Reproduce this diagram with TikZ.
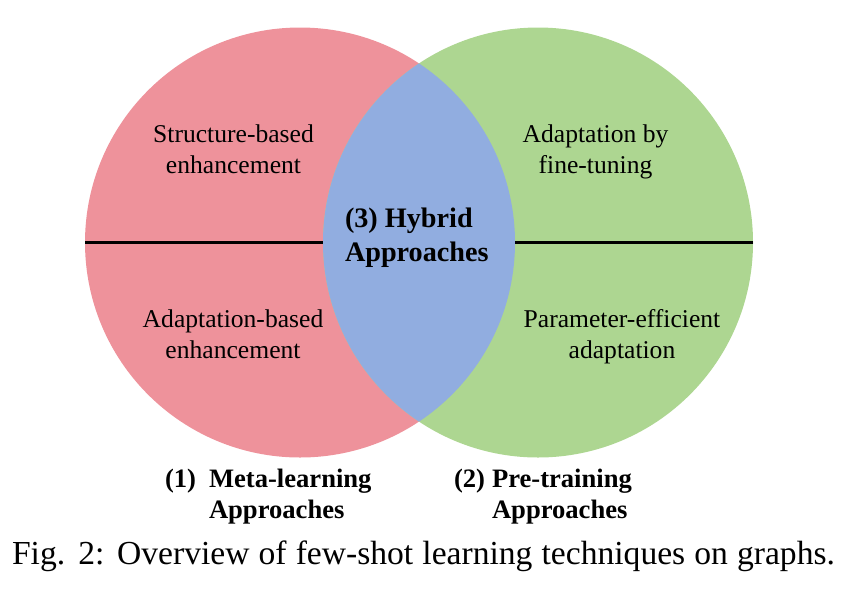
\documentclass[tikz,border=0pt]{standalone}
\usepackage{fontspec}
\setmainfont{Liberation Serif}
\usepackage{xcolor}
\usepackage{tikz}
\usetikzlibrary{positioning}
\definecolor{venn@pink}{RGB}{238,146,155}
\definecolor{venn@green}{RGB}{173,214,145}
\definecolor{venn@blue}{RGB}{145,173,224}
\tikzset{
  venn/.style={
    x=0.5pt, y=-0.5pt,
    every node/.style={inner sep=0pt, outer sep=0pt}
  },
  disc/.style={                    % one set of the diagram
    circle, minimum size=215pt,
    inner sep=0pt, outer sep=0pt
  },
  divider/.style={line width=1.65pt, draw=black},
  sublabel/.style={                % topic inside a set
    font=\fontsize{12.8}{15.5}\selectfont,
    align=center
  },
  hyblabel/.style={
    font=\fontsize{14.1}{17}\selectfont\bfseries,
    align=left
  },
  setlabel/.style={                % name under a set
    font=\fontsize{13.3}{15.5}\selectfont\bfseries,
    align=left
  },
  fcaption/.style={font=\fontsize{16.8}{19}\selectfont}
}

\begin{document}
\begin{tikzpicture}[venn]
\useasboundingbox (0,0) rectangle (844,600);

% The two sets
\node[disc, fill=venn@pink] (meta) at (300,242.5) {};
\node[disc, fill=venn@green] (pre) at (538,242.5) {};

% Overlap of both sets
\begin{scope}
  \clip (meta.center) circle[radius=215];
  \fill[venn@blue] (pre.center) circle[radius=215];
\end{scope}

% Split lines
\draw[divider] (meta.west) -- (pre.west);
\draw[divider] (meta.east) -- (pre.east);

% Topics in the meta-learning set
\node[sublabel, anchor=base] (struct) at (233.5,173)
  {Structure-based\\enhancement};
\node[sublabel, anchor=base] (adapt) at (233,358)
  {Adaptation-based\\enhancement};

% Topics in the pre-training set
\node[sublabel, anchor=base] (finetune) at (595.5,173)
  {Adaptation by\\fine-tuning};
\node[sublabel, anchor=base] (peft) at (622,358)
  {Parameter-efficient\\adaptation};

% Overlap label
\node[hyblabel, anchor=base west] (hybrid) at (345,261)
  {(3) Hybrid\\Approaches};

% Set names below
\node[setlabel, anchor=base west] (metanum) at (165,487) {(1)};
\node[setlabel, anchor=base west] (metaname) at (209,518)
  {Meta-learning\\Approaches};
\node[setlabel, anchor=base west] (prenum) at (454,487) {(2)};
\node[setlabel, anchor=base west] (prename) at (492,518)
  {Pre-training\\Approaches};

% Caption
\node[fcaption, anchor=base west] (caption) at (12,564)
  {\makebox[411.5pt][s]{Fig. 2: Overview of few-shot learning techniques on graphs.}};

\end{tikzpicture}
\end{document}
